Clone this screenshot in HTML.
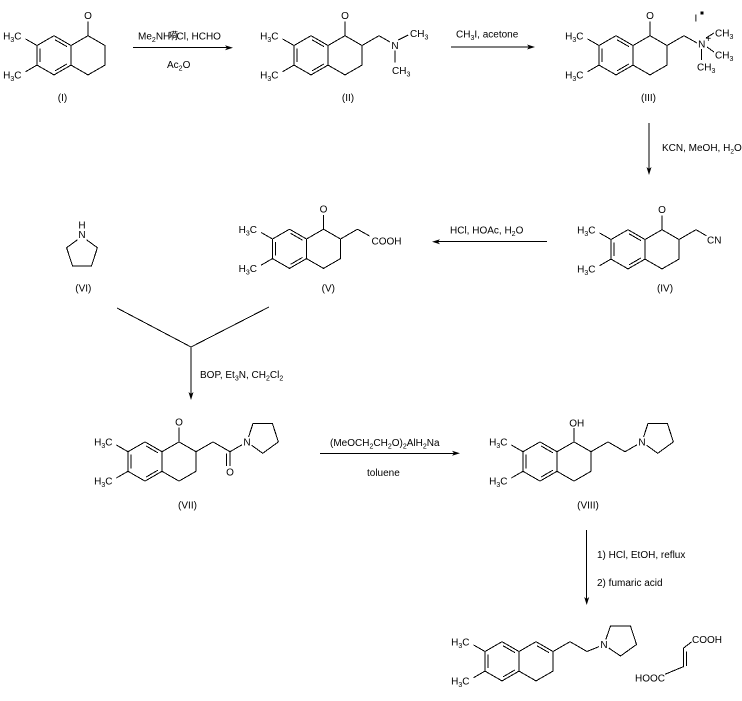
<!DOCTYPE html>
<html>
<head>
<meta charset="utf-8">
<style>
html,body{margin:0;padding:0;background:#fff;}
svg{display:block;}
text{font-family:"Liberation Sans","Noto Sans CJK SC",Arial,sans-serif;font-size:10px;fill:#000;}
.b{fill:none;stroke:#000;stroke-width:1;shape-rendering:crispEdges;}
.ah{fill:#000;stroke:none;}
</style>
</head>
<body>
<svg width="742" height="701" viewBox="0 0 742 701" xmlns="http://www.w3.org/2000/svg">

<!-- (I) -->
<g transform="translate(71,45.5)">
<path class="b" d="M-34,0 L-17,-9.8 L0,0 L0,19.6 L-17,29.4 L-34,19.6 Z M-15.95,-5.73 L-4.05,1.13 M-31,2.9 L-31,16.7 M-15.95,25.33 L-4.05,18.47 M0,0 L17,-9.8 L34,0 L34,19.6 L17,29.4 L0,19.6 M-34,0 L-45.5,-6.6 M-34,19.6 L-45.5,26.2 M17,-9.8 L17,-24"/>
<text x="-49.5" y="-6" text-anchor="end">H<tspan font-size="7" dy="2.5">3</tspan><tspan dy="-2.5">C</tspan></text>
<text x="-49.5" y="33" text-anchor="end">H<tspan font-size="7" dy="2.5">3</tspan><tspan dy="-2.5">C</tspan></text>
<text x="17" y="-26.4" text-anchor="middle">O</text>
</g>
<text x="62.5" y="101" text-anchor="middle">(I)</text>

<!-- arrow 1 -->
<path class="b" d="M133,47.7 L228,47.7"/>
<polygon class="ah" points="233,47.7 225,45.2 227,47.7 225,50.2"/>
<text x="138" y="39.5">Me<tspan font-size="7" dy="2.5">2</tspan><tspan dy="-2.5">NH</tspan></text>
<text x="168" y="39.5" font-size="9">嗬</text>
<text x="176.5" y="39.5" font-size="9.5">Cl, HCHO</text>
<text x="167" y="68">Ac<tspan font-size="7" dy="2.5">2</tspan><tspan dy="-2.5">O</tspan></text>

<!-- (II) -->
<g transform="translate(328,45.5)">
<path class="b" d="M-34,0 L-17,-9.8 L0,0 L0,19.6 L-17,29.4 L-34,19.6 Z M-15.95,-5.73 L-4.05,1.13 M-31,2.9 L-31,16.7 M-15.95,25.33 L-4.05,18.47 M0,0 L17,-9.8 L34,0 L34,19.6 L17,29.4 L0,19.6 M-34,0 L-45.5,-6.6 M-34,19.6 L-45.5,26.2 M17,-9.8 L17,-24 M34,0 L51,-9.8 L62,-3.5 M70.3,-5.5 L80.3,-10.5 M67,5 L67,17"/>
<text x="-49.5" y="-6" text-anchor="end">H<tspan font-size="7" dy="2.5">3</tspan><tspan dy="-2.5">C</tspan></text>
<text x="-49.5" y="33" text-anchor="end">H<tspan font-size="7" dy="2.5">3</tspan><tspan dy="-2.5">C</tspan></text>
<text x="17" y="-26.4" text-anchor="middle">O</text>
<text x="67" y="3.6" text-anchor="middle">N</text>
<text x="82" y="-8.3">CH<tspan font-size="7" dy="2.5">3</tspan></text>
<text x="64" y="28.3">CH<tspan font-size="7" dy="2.5">3</tspan></text>
</g>
<text x="348" y="101" text-anchor="middle">(II)</text>

<!-- arrow 2 -->
<path class="b" d="M451,47 L530,47"/>
<polygon class="ah" points="535,47 527,44.5 529,47 527,49.5"/>
<text x="456" y="37.5">CH<tspan font-size="7" dy="2.5">3</tspan><tspan dy="-2.5">I, acetone</tspan></text>

<!-- (III) -->
<g transform="translate(633,45.5)">
<path class="b" d="M-34,0 L-17,-9.8 L0,0 L0,19.6 L-17,29.4 L-34,19.6 Z M-15.95,-5.73 L-4.05,1.13 M-31,2.9 L-31,16.7 M-15.95,25.33 L-4.05,18.47 M0,0 L17,-9.8 L34,0 L34,19.6 L17,29.4 L0,19.6 M-34,0 L-45.5,-6.6 M-34,19.6 L-45.5,26.2 M17,-9.8 L17,-24 M34,0 L51,-9.8 L64,-2.5"/>
<text x="-49.5" y="-6" text-anchor="end">H<tspan font-size="7" dy="2.5">3</tspan><tspan dy="-2.5">C</tspan></text>
<text x="-49.5" y="33" text-anchor="end">H<tspan font-size="7" dy="2.5">3</tspan><tspan dy="-2.5">C</tspan></text>
<text x="17" y="-26.4" text-anchor="middle">O</text>
</g>
<text x="701.7" y="47.6" text-anchor="middle">N</text>
<text x="708.3" y="42" text-anchor="middle" font-size="8">+</text>
<path class="b" d="M706,38 L714,33 M707,47 L714,52 M701.7,49 L701.7,60"/>
<text x="715" y="36.6">CH<tspan font-size="7" dy="2.5">3</tspan></text>
<text x="715" y="58.6">CH<tspan font-size="7" dy="2.5">3</tspan></text>
<text x="697" y="70.6">CH<tspan font-size="7" dy="2.5">3</tspan></text>
<text x="694.5" y="21.5">I</text>
<rect x="700.5" y="11.5" width="3" height="3" fill="#000"/>
<text x="648.5" y="101" text-anchor="middle">(III)</text>

<!-- arrow 3 -->
<path class="b" d="M649,123 L649,170"/>
<polygon class="ah" points="649,175 646.5,167 649,169 651.5,167"/>
<text x="662" y="151" font-size="9">KCN, MeOH, H<tspan font-size="6.5" dy="2.5">2</tspan><tspan dy="-2.5">O</tspan></text>

<!-- (IV) -->
<g transform="translate(645,239.5)">
<path class="b" d="M-34,0 L-17,-9.8 L0,0 L0,19.6 L-17,29.4 L-34,19.6 Z M-15.95,-5.73 L-4.05,1.13 M-31,2.9 L-31,16.7 M-15.95,25.33 L-4.05,18.47 M0,0 L17,-9.8 L34,0 L34,19.6 L17,29.4 L0,19.6 M-34,0 L-45.5,-6.6 M-34,19.6 L-45.5,26.2 M17,-9.8 L17,-24 M34,0 L51,-9.8 L61.5,-3.7"/>
<text x="-49.5" y="-6" text-anchor="end">H<tspan font-size="7" dy="2.5">3</tspan><tspan dy="-2.5">C</tspan></text>
<text x="-49.5" y="33" text-anchor="end">H<tspan font-size="7" dy="2.5">3</tspan><tspan dy="-2.5">C</tspan></text>
<text x="17" y="-26.4" text-anchor="middle">O</text>
<text x="62" y="4">CN</text>
</g>
<text x="665" y="291.5" text-anchor="middle">(IV)</text>

<!-- arrow 4 -->
<path class="b" d="M547,241.7 L437,241.7"/>
<polygon class="ah" points="432,241.7 440,239.2 438,241.7 440,244.2"/>
<text x="450" y="233.3">HCl, HOAc, H<tspan font-size="7" dy="2.5">2</tspan><tspan dy="-2.5">O</tspan></text>

<!-- (V) -->
<g transform="translate(306.5,239)">
<path class="b" d="M-34,0 L-17,-9.8 L0,0 L0,19.6 L-17,29.4 L-34,19.6 Z M-15.95,-5.73 L-4.05,1.13 M-31,2.9 L-31,16.7 M-15.95,25.33 L-4.05,18.47 M0,0 L17,-9.8 L34,0 L34,19.6 L17,29.4 L0,19.6 M-34,0 L-45.5,-6.6 M-34,19.6 L-45.5,26.2 M17,-9.8 L17,-24 M34,0 L51,-9.8 L63,-3"/>
<text x="-49.5" y="-6" text-anchor="end">H<tspan font-size="7" dy="2.5">3</tspan><tspan dy="-2.5">C</tspan></text>
<text x="-49.5" y="33" text-anchor="end">H<tspan font-size="7" dy="2.5">3</tspan><tspan dy="-2.5">C</tspan></text>
<text x="17" y="-26.4" text-anchor="middle">O</text>
<text x="65" y="5.5">COOH</text>
</g>
<text x="328.3" y="291.5" text-anchor="middle">(V)</text>

<!-- (VI) pyrrolidine -->
<text x="82" y="228.6" text-anchor="middle">H</text>
<text x="82" y="238" text-anchor="middle">N</text>
<path class="b" d="M77.4,239.8 L66.6,247.7 L72.5,265.8 L91.5,265.8 L97.4,247.7 L86.6,239.8"/>
<text x="83.3" y="291.5" text-anchor="middle">(VI)</text>

<!-- merge + arrow 5 -->
<path class="b" d="M117,308 L191,347 L269,307 M191,347 L191,395"/>
<polygon class="ah" points="191,400 188.5,392 191,394 193.5,392"/>
<text x="200" y="378">BOP, Et<tspan font-size="7" dy="2.5">3</tspan><tspan dy="-2.5">N, CH</tspan><tspan font-size="7" dy="2.5">2</tspan><tspan dy="-2.5">Cl</tspan><tspan font-size="7" dy="2.5">2</tspan></text>

<!-- (VII) -->
<g transform="translate(162,451.7)">
<path class="b" d="M-34,0 L-17,-9.8 L0,0 L0,19.6 L-17,29.4 L-34,19.6 Z M-15.95,-5.73 L-4.05,1.13 M-31,2.9 L-31,16.7 M-15.95,25.33 L-4.05,18.47 M0,0 L17,-9.8 L34,0 L34,19.6 L17,29.4 L0,19.6 M-34,0 L-45.5,-6.6 M-34,19.6 L-45.5,26.2 M17,-9.8 L17,-24 M34,0 L51,-9.8 L68,0 L68,14.5 M64.7,1.7 L64.7,14.5 M68,0 L80,-6.9"/>
<path class="b" d="M86.6,-14.8 L90.99,-28.25 L110.39,-28.25 L116.38,-9.8 L100.69,1.6 L89.6,-6.45"/>
<text x="-49.5" y="-6" text-anchor="end">H<tspan font-size="7" dy="2.5">3</tspan><tspan dy="-2.5">C</tspan></text>
<text x="-49.5" y="33" text-anchor="end">H<tspan font-size="7" dy="2.5">3</tspan><tspan dy="-2.5">C</tspan></text>
<text x="17" y="-26.4" text-anchor="middle">O</text>
<text x="68" y="23.6" text-anchor="middle">O</text>
<text x="85" y="-6.2" text-anchor="middle">N</text>
</g>
<text x="187.5" y="508.5" text-anchor="middle">(VII)</text>

<!-- arrow 6 -->
<path class="b" d="M320,453.3 L455,453.3"/>
<polygon class="ah" points="460,453.3 452,450.8 454,453.3 452,455.8"/>
<text x="330" y="446">(MeOCH<tspan font-size="7" dy="2.5">2</tspan><tspan dy="-2.5">CH</tspan><tspan font-size="7" dy="2.5">2</tspan><tspan dy="-2.5">O)</tspan><tspan font-size="7" dy="2.5">2</tspan><tspan dy="-2.5">AlH</tspan><tspan font-size="7" dy="2.5">2</tspan><tspan dy="-2.5">Na</tspan></text>
<text x="367" y="476">toluene</text>

<!-- (VIII) -->
<g transform="translate(557,451.7)">
<path class="b" d="M-34,0 L-17,-9.8 L0,0 L0,19.6 L-17,29.4 L-34,19.6 Z M-15.95,-5.73 L-4.05,1.13 M-31,2.9 L-31,16.7 M-15.95,25.33 L-4.05,18.47 M0,0 L17,-9.8 L34,0 L34,19.6 L17,29.4 L0,19.6 M-34,0 L-45.5,-6.6 M-34,19.6 L-45.5,26.2 M17,-9.8 L17,-23.5 M34,0 L51,-9.8 L68,0 L80,-6.9"/>
<path class="b" d="M86.6,-14.8 L90.99,-28.25 L110.39,-28.25 L116.38,-9.8 L100.69,1.6 L89.6,-6.45"/>
<text x="-49.5" y="-6" text-anchor="end">H<tspan font-size="7" dy="2.5">3</tspan><tspan dy="-2.5">C</tspan></text>
<text x="-49.5" y="33" text-anchor="end">H<tspan font-size="7" dy="2.5">3</tspan><tspan dy="-2.5">C</tspan></text>
<text x="12.2" y="-25.4">OH</text>
<text x="85" y="-6.2" text-anchor="middle">N</text>
</g>
<text x="588" y="508.5" text-anchor="middle">(VIII)</text>

<!-- arrow 7 -->
<path class="b" d="M586.7,530 L586.7,600"/>
<polygon class="ah" points="586.7,605 584.2,597 586.7,599 589.2,597"/>
<text x="597" y="558">1) HCl, EtOH, reflux</text>
<text x="597" y="586">2) fumaric acid</text>

<!-- final product -->
<g transform="translate(519,651.5)">
<path class="b" d="M-34,0 L-17,-9.8 L0,0 L0,19.6 L-17,29.4 L-34,19.6 Z M-15.95,-5.73 L-4.05,1.13 M-31,2.9 L-31,16.7 M-15.95,25.33 L-4.05,18.47 M0,0 L17,-9.8 L34,0 L34,19.6 L17,29.4 L0,19.6 M18.05,-5.73 L29.95,1.13 M-34,0 L-45.5,-6.6 M-34,19.6 L-45.5,26.2 M34,0 L51,-9.8 L68,0 L80,-4.9"/>
<path class="b" d="M86.8,-12 L91.5,-25.5 L111.5,-25.5 L117.5,-7 L101.5,4.5 L89.8,-3.5"/>
<text x="-49.5" y="-6" text-anchor="end">H<tspan font-size="7" dy="2.5">3</tspan><tspan dy="-2.5">C</tspan></text>
<text x="-49.5" y="33" text-anchor="end">H<tspan font-size="7" dy="2.5">3</tspan><tspan dy="-2.5">C</tspan></text>
<text x="85" y="-3.4" text-anchor="middle">N</text>
</g>

<!-- fumaric acid -->
<path class="b" d="M665,674.3 L683.3,666.7 L683.3,648.3 L691.7,641.7 M686.7,651.7 L686.7,666"/>
<text x="692" y="643">COOH</text>
<text x="635" y="681.5">HOOC</text>

</svg>
</body>
</html>
